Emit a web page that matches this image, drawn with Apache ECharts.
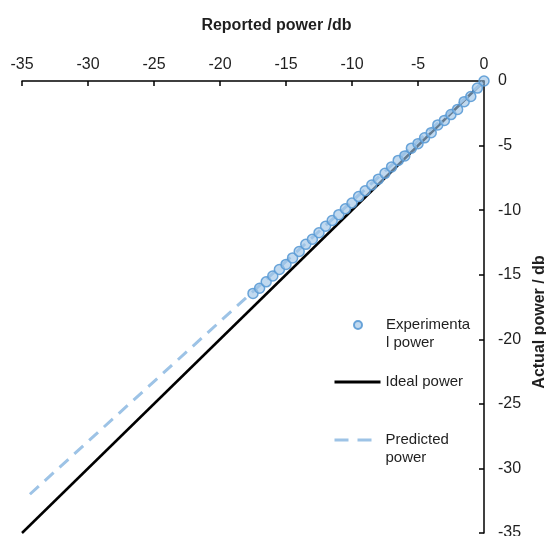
<!DOCTYPE html>
<html>
<head>
<meta charset="utf-8">
<script src="https://cdn.jsdelivr.net/npm/echarts@6/dist/echarts.min.js"></script>
<style>
  html, body { margin: 0; padding: 0; background: #fff; }
  #main { width: 546px; height: 536px; }
</style>
</head>
<body>
<div id="main"></div>
<script>
// reported power (x) and actual power (y), dB
var expReported = [-17.5, -17, -16.5, -16, -15.5, -15, -14.5, -14, -13.5, -13, -12.5, -12,
  -11.5, -11, -10.5, -10, -9.5, -9, -8.5, -8, -7.5, -7, -6.5, -6, -5.5, -5, -4.5, -4,
  -3.5, -3, -2.5, -2, -1.5, -1, -0.5, 0];
var expActual = [-16.45, -16.05, -15.55, -15.1, -14.6, -14.2, -13.7, -13.2, -12.65, -12.25, -11.75, -11.25,
  -10.8, -10.35, -9.9, -9.45, -8.95, -8.5, -8.05, -7.6, -7.15, -6.65, -6.15, -5.8, -5.2, -4.85, -4.4, -4.0,
  -3.4, -3.05, -2.6, -2.2, -1.6, -1.2, -0.55, 0];

var idealReported = [-35, 0];
var idealActual = [-35, 0];

var predReported = [-34.4, -17.5, 0];
var predActual = [-32.0, -16.3, 0];

var xTicks = [-35, -30, -25, -20, -15, -10, -5, 0];
var yTicks = [-35, -30, -25, -20, -15, -10, -5, 0];

function pairs(xs, ys) {
  return xs.map(function (x, i) { return [x, ys[i]]; });
}

var chart = echarts.init(document.getElementById('main'));

var font = 'Liberation Sans, Arial, sans-serif';
var legendText = { fontSize: 15, color: '#1f1f1f', fontFamily: font, lineHeight: 18 };
var hideSymbol = { opacity: 0 };

var option = {
  backgroundColor: '#fff',
  animation: false,
  grid: { left: 22, right: 62, top: 81, bottom: 3, outerBoundsMode: 'none' },
  xAxis: {
    type: 'value',
    position: 'top',
    min: xTicks[0], max: xTicks[xTicks.length - 1], interval: 5,
    name: 'Reported power /db',
    nameLocation: 'middle',
    nameGap: 47,
    nameTextStyle: { fontSize: 16, fontWeight: 'bold', color: '#1f1f1f', fontFamily: font, padding: [0, 0, 0, 47] },
    axisLine: { onZero: false, lineStyle: { color: '#000', width: 1.5 } },
    axisTick: { inside: true, length: 5, lineStyle: { color: '#000', width: 1.5 } },
    axisLabel: { fontSize: 16, color: '#1f1f1f', fontFamily: font, margin: 8 },
    splitLine: { show: false }
  },
  yAxis: {
    type: 'value',
    position: 'right',
    min: yTicks[0], max: yTicks[yTicks.length - 1], interval: 5,
    name: 'Actual power / db',
    nameLocation: 'middle',
    nameGap: 45,
    nameTextStyle: { fontSize: 16, fontWeight: 'bold', color: '#1f1f1f', fontFamily: font, padding: [0, 30, 0, 0] },
    axisLine: { onZero: false, lineStyle: { color: '#000', width: 1.5 } },
    axisTick: { inside: true, length: 5, lineStyle: { color: '#000', width: 1.5 } },
    axisLabel: { fontSize: 16, color: '#1f1f1f', fontFamily: font, margin: 14 },
    splitLine: { show: false }
  },
  legend: [
    {
      data: ['Experimental power'],
      left: 348, top: 293,
      itemWidth: 46, itemHeight: 8,
      formatter: function () { return ' \nExperimenta\nl power'; },
      textStyle: legendText
    },
    {
      data: ['Ideal power'],
      left: 328, top: 368,
      itemWidth: 46, itemHeight: 14,
      itemStyle: hideSymbol,
      lineStyle: { width: 3 },
      textStyle: legendText
    },
    {
      data: ['Predicted power'],
      left: 328, top: 408,
      itemWidth: 37, itemHeight: 14,
      itemStyle: hideSymbol,
      lineStyle: { width: 3, type: [14, 9] },
      formatter: function () { return ' \nPredicted\npower'; },
      textStyle: Object.assign({ padding: [0, 0, 0, 9] }, legendText)
    }
  ],
  series: [
    {
      name: 'Predicted power',
      type: 'line',
      data: pairs(predReported, predActual),
      symbol: 'none',
      lineStyle: { color: '#9dc3e6', width: 3, type: [12, 8] },
      itemStyle: { color: '#9dc3e6' },
      z: 2
    },
    {
      name: 'Ideal power',
      type: 'line',
      data: pairs(idealReported, idealActual),
      symbol: 'none',
      lineStyle: { color: '#000', width: 2.5 },
      itemStyle: { color: '#000' },
      z: 1
    },
    {
      name: 'Experimental power',
      type: 'scatter',
      data: pairs(expReported, expActual),
      symbolSize: 10,
      itemStyle: { color: 'rgba(157,195,230,0.7)', borderColor: '#5b9bd5', borderWidth: 1.5, opacity: 0.9 },
      z: 3
    }
  ]
};

chart.setOption(option);
</script>
</body>
</html>
